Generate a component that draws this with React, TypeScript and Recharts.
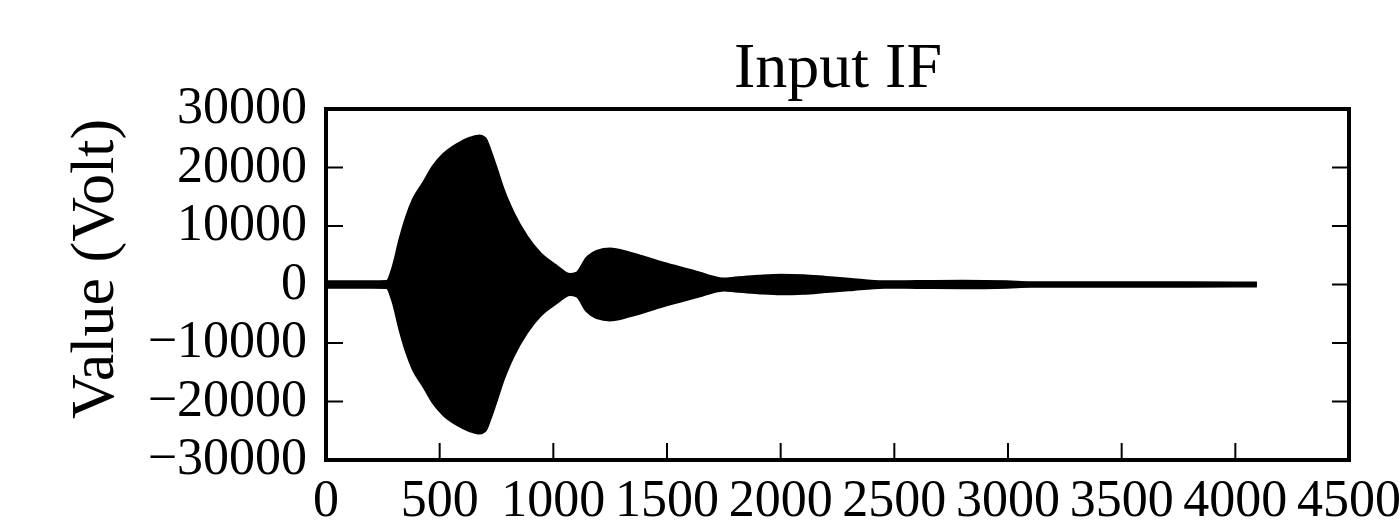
import React from 'react';
import { ComposedChart, Area, XAxis, YAxis } from 'recharts';

// Envelope of the dense IF waveform (sample index -> peak amplitude)
const sampleIndex = [
  0, 100, 200, 267, 296, 325, 355, 384, 428, 472, 516, 575, 633, 677, 699, 721,
  751, 780, 824, 883, 941, 1015, 1073, 1103, 1147, 1191, 1249, 1337, 1484, 1645,
  1700, 1750, 1800, 1900, 2000, 2100, 2200, 2300, 2455, 2600, 2800, 2996,
  3100, 3400, 3700, 4000, 4095,
];
const upperEnvelope = [
  450, 450, 450, 500, 3100, 7650, 11600, 14500, 17300, 20200, 22200, 23900, 25000, 25400, 25000, 23000,
  19600, 16200, 12200, 8200, 5350, 3100, 1700, 1950, 4500, 5650, 6050, 5350, 3650, 1950,
  1300, 950, 1100, 1400, 1600, 1500, 1200, 900, 450, 500, 550, 450,
  300, 300, 300, 250, 250,
];
const lowerEnvelope = [
  -450, -450, -450, -500, -3100, -7650, -11600, -14500, -17300, -20200, -22200, -23900, -25000, -25400, -25000, -23000,
  -19600, -16200, -12200, -8200, -5350, -3100, -1700, -1950, -4500, -5650, -6050, -5350, -3650, -1950,
  -1300, -950, -1100, -1400, -1600, -1500, -1200, -900, -450, -500, -550, -450,
  -300, -300, -300, -250, -250,
];
const xTicks = [0, 500, 1000, 1500, 2000, 2500, 3000, 3500, 4000, 4500];
const yTicks = [-30000, -20000, -10000, 0, 10000, 20000, 30000];
const titleText = 'Input IF';
const yLabelText = 'Value (Volt)';

const data = sampleIndex.map((s, i) => ({ sample: s, range: [lowerEnvelope[i], upperEnvelope[i]] }));

const FONT = '"Liberation Serif", "Times New Roman", Times, serif';
const TICK_LEN = 17;
const W = 1400;
const H = 527;
// plot area: x 326..1349, y 109..460 (axes take 1px each)
const M = { top: 108, right: 50, bottom: 66, left: 325 };

const fmt = (v: number) => (v < 0 ? '\u2212' + Math.abs(v) : String(v));

const BottomTick = (props: any) => {
  const { x, y, payload } = props;
  return (
    <g>
      <line x1={x} y1={y} x2={x} y2={y - TICK_LEN} stroke="#000" strokeWidth={2} />
      <text x={x} y={y + 56} textAnchor="middle" fontFamily={FONT} fontSize={52} fill="#000">
        {fmt(payload.value)}
      </text>
    </g>
  );
};
const TopTick = (props: any) => {
  const { x, y } = props;
  return <line x1={x} y1={y} x2={x} y2={y + TICK_LEN} stroke="#000" strokeWidth={2} />;
};
const LeftTick = (props: any) => {
  const { x, y, payload } = props;
  return (
    <g>
      <line x1={x} y1={y} x2={x + TICK_LEN} y2={y} stroke="#000" strokeWidth={2} />
      <text x={x - 19} y={y + 14} textAnchor="end" fontFamily={FONT} fontSize={52} fill="#000">
        {fmt(payload.value)}
      </text>
    </g>
  );
};
const RightTick = (props: any) => {
  const { x, y } = props;
  return <line x1={x} y1={y} x2={x - TICK_LEN} y2={y} stroke="#000" strokeWidth={2} />;
};

const axisLine = { stroke: '#000', strokeWidth: 4, strokeLinecap: 'square' as const };

export default function App() {
  return (
    <div style={{ position: 'absolute', left: 0, top: 0, width: W, height: H, background: '#fff' }}>
      <ComposedChart width={W} height={H} data={data} margin={M}>
        <XAxis
          dataKey="sample"
          type="number"
          domain={[0, 4500]}
          ticks={xTicks}
          height={1}
          tickSize={0}
          tickMargin={0}
          tickLine={false}
          axisLine={axisLine}
          tick={<BottomTick />}
          interval={0}
          allowDataOverflow
        />
        <XAxis
          xAxisId="top"
          orientation="top"
          type="number"
          domain={[0, 4500]}
          ticks={xTicks}
          height={1}
          tickSize={0}
          tickMargin={0}
          tickLine={false}
          axisLine={axisLine}
          tick={<TopTick />}
          interval={0}
          allowDataOverflow
        />
        <YAxis
          type="number"
          domain={[-30000, 30000]}
          ticks={yTicks}
          width={1}
          tickSize={0}
          tickMargin={0}
          tickLine={false}
          axisLine={axisLine}
          tick={<LeftTick />}
          interval={0}
          allowDataOverflow
        />
        <YAxis
          yAxisId="right"
          orientation="right"
          type="number"
          domain={[-30000, 30000]}
          ticks={yTicks}
          width={1}
          tickSize={0}
          tickMargin={0}
          tickLine={false}
          axisLine={axisLine}
          tick={<RightTick />}
          interval={0}
          allowDataOverflow
        />
        <Area
          dataKey="range"
          type="monotone"
          stroke="#000"
          strokeWidth={3}
          strokeLinejoin="round"
          fill="#000"
          fillOpacity={1}
          dot={false}
          activeDot={false}
          isAnimationActive={false}
        />
      </ComposedChart>
      <svg
        width={W}
        height={H}
        style={{ position: 'absolute', left: 0, top: 0, pointerEvents: 'none' }}
      >
        <text x={838} y={87} textAnchor="middle" fontFamily={FONT} fontSize={64} fill="#000">
          {titleText}
        </text>
        <text
          transform="translate(113, 269) rotate(-90)"
          textAnchor="middle"
          fontFamily={FONT}
          fontSize={62}
          fill="#000"
        >
          {yLabelText}
        </text>
      </svg>
    </div>
  );
}
